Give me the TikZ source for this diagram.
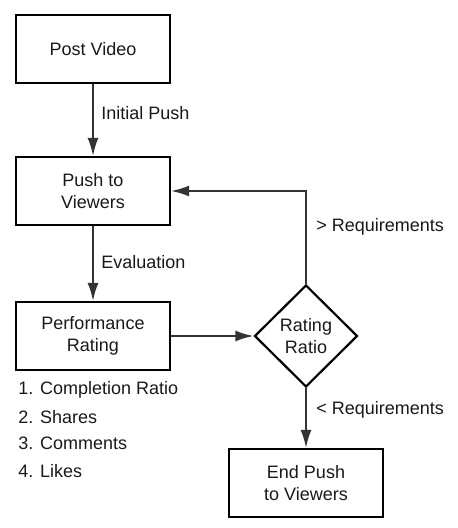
\documentclass[tikz,border=0pt]{standalone}
\usepackage{fontspec}
\setmainfont{Liberation Sans}
\usetikzlibrary{arrows.meta,shapes.geometric}

\begin{document}
\begin{tikzpicture}[x = 0.5pt, y = -0.5pt,
  every node/.style = {font = \fontsize{9}{11}\selectfont, text = black!90},
  stepbox/.style = {draw = black, line width = 1.1pt, minimum width = 77pt, minimum height = 34pt, inner sep = 0pt, align = center},
  choice/.style = {draw = black, line width = 1.1pt, diamond, minimum width = 51.5pt, minimum height = 51pt, inner sep = 0pt, align = center},
  flow/.style = {draw = black!80, line width = 1pt, -{Latex[length = 9pt, width = 5.5pt]}},
  note/.style = {anchor = west, inner sep = 0pt}]
\useasboundingbox (0, 0) rectangle (458, 528);
%\draw[very thin, color = gray](0, 0) grid[step = 50] (458, 528);
\node [stepbox] (post) at (93, 49) {Post Video};
\node [stepbox] (push) at (93, 191) {Push to\\Viewers};
\node [stepbox] (perf) at (93, 336) {Performance\\Rating};
\node [choice] (ratio) at (306, 336) {Rating\\Ratio};
\node [stepbox] (endpush) at (306, 483) {End Push\\to Viewers};
\draw [flow] (post) -- (push);
\draw [flow] (push) -- (perf);
\draw [flow] (perf) -- (ratio);
\draw [flow] (ratio.north) |- (push.east);
\draw [flow] (ratio) -- (endpush);
\node [note] (initial) at (101, 113) {Initial Push};
\node [note] (evaluation) at (101, 262) {Evaluation};
\node [note] (above) at (316, 227) {> Requirements};
\node [note] (below) at (316, 410) {< Requirements};
\node [note] (item1) at (18, 390) {1. Completion Ratio};
\node [note] (item2) at (18, 417) {2. Shares};
\node [note] (item3) at (18, 443) {3. Comments};
\node [note] (item4) at (18, 471) {4. Likes};
\end{tikzpicture}
\end{document}
